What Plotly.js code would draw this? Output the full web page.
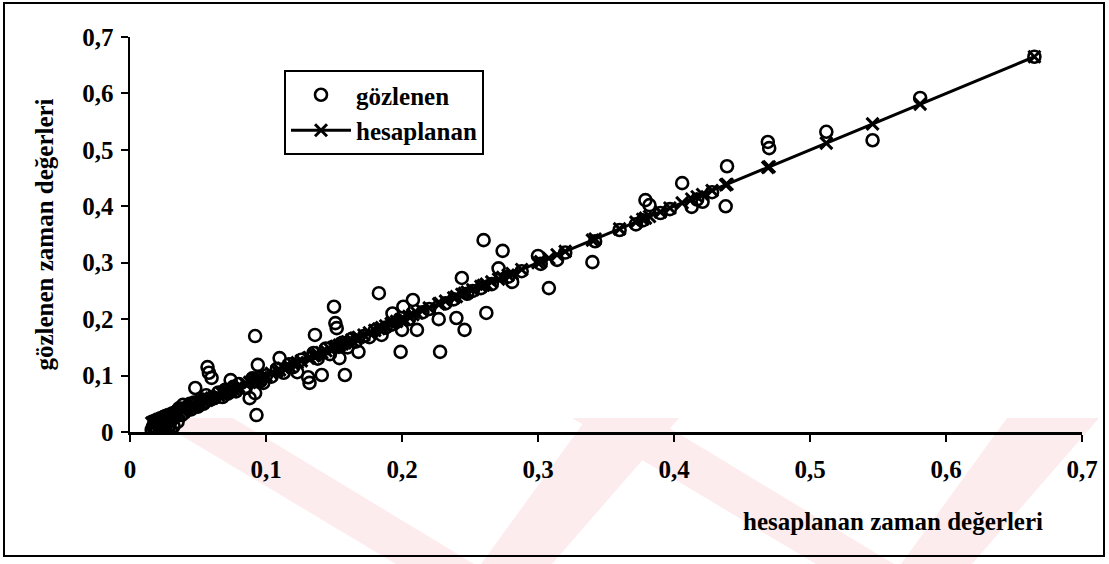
<!DOCTYPE html>
<html>
<head>
<meta charset="utf-8">
<script src="https://cdn.plot.ly/plotly-3.0.1.min.js"></script>
<style>html,body{margin:0;padding:0;background:#fff;}#chart{width:1109px;height:564px;}</style>
</head>
<body>
<div id="chart"></div>
<script>
// hesaplanan (computed) time values = x of each observation
const hesaplanan = [0.016,0.017,0.018,0.018,0.019,0.020,0.020,0.021,0.022,0.022,0.023,0.024,0.024,0.025,0.026,0.026,0.027,0.028,0.028,0.029,0.030,0.030,0.031,0.032,0.033,0.034,0.035,0.036,0.038,0.039,0.040,0.042,0.044,0.045,0.047,0.048,0.050,0.052,0.054,0.056,0.057,0.058,0.060,0.062,0.065,0.068,0.070,0.072,0.074,0.076,0.078,0.080,0.085,0.088,0.090,0.092,0.092,0.093,0.094,0.096,0.098,0.100,0.104,0.108,0.110,0.113,0.117,0.120,0.123,0.126,0.131,0.132,0.135,0.136,0.138,0.141,0.144,0.147,0.150,0.151,0.152,0.154,0.156,0.158,0.160,0.163,0.166,0.168,0.172,0.176,0.180,0.183,0.185,0.188,0.192,0.193,0.196,0.199,0.200,0.201,0.205,0.208,0.211,0.215,0.220,0.227,0.228,0.232,0.238,0.240,0.244,0.246,0.248,0.252,0.258,0.260,0.262,0.266,0.271,0.274,0.278,0.281,0.288,0.300,0.302,0.308,0.314,0.320,0.340,0.342,0.360,0.372,0.377,0.379,0.382,0.390,0.397,0.406,0.413,0.417,0.421,0.428,0.438,0.439,0.469,0.470,0.512,0.546,0.581,0.665];
// gözlenen (observed) time values
const gozlenen = [0.004,0.010,0.003,0.018,0.008,0.002,0.014,0.022,0.006,0.016,0.024,0.004,0.012,0.020,0.008,0.028,0.016,0.005,0.024,0.012,0.002,0.020,0.030,0.010,0.026,0.036,0.018,0.042,0.030,0.048,0.034,0.044,0.050,0.040,0.052,0.078,0.045,0.058,0.050,0.065,0.115,0.105,0.096,0.060,0.070,0.062,0.075,0.068,0.092,0.080,0.072,0.085,0.078,0.060,0.095,0.069,0.170,0.030,0.119,0.090,0.087,0.100,0.098,0.112,0.131,0.105,0.120,0.115,0.106,0.128,0.097,0.087,0.140,0.172,0.130,0.101,0.148,0.138,0.222,0.193,0.184,0.131,0.158,0.101,0.150,0.165,0.160,0.142,0.170,0.168,0.180,0.246,0.172,0.185,0.190,0.210,0.195,0.142,0.181,0.222,0.200,0.234,0.181,0.212,0.218,0.200,0.142,0.228,0.235,0.202,0.273,0.181,0.245,0.250,0.255,0.340,0.211,0.262,0.290,0.321,0.275,0.266,0.285,0.312,0.298,0.255,0.305,0.318,0.301,0.338,0.358,0.368,0.375,0.411,0.402,0.388,0.395,0.441,0.399,0.412,0.408,0.425,0.400,0.471,0.514,0.503,0.532,0.517,0.592,0.665];

const tickValues = [0,0.1,0.2,0.3,0.4,0.5,0.6,0.7];
const tickLabels = ['0','0,1','0,2','0,3','0,4','0,5','0,6','0,7'];
const seriesNames = ['gözlenen','hesaplanan'];
const xTitle = 'hesaplanan zaman değerleri';
const yTitle = 'gözlenen zaman değerleri';

const W = 1109, H = 564, L = 130, R = 27, T = 37, B = 132;
const pw = W - L - R, ph = H - T - B;
const px = v => (v - L) / pw;
const py = v => (H - B - v) / ph;
const font = {family: 'Liberation Serif, Times New Roman, serif', size: 25, color: '#000', weight: 'bold'};

// faint pink watermark stripes (background decoration)
const pink = '#fdecee';
function poly(pts){
  return {type:'path', xref:'paper', yref:'paper', layer:'below', fillcolor:pink, line:{width:0},
    path: 'M ' + pts.map(p => px(p[0]) + ',' + py(p[1])).join(' L ') + ' Z'};
}
const wm = [
  poly([[152,418],[233,418],[474,564],[396,564]]),
  poly([[587,418],[679,418],[552,564],[481,564]]),
  poly([[572,418],[653,418],[894,564],[816,564]]),
  poly([[1007,418],[1099,418],[972,564],[901,564]])
];
const border = {type:'rect', xref:'paper', yref:'paper', layer:'above',
  x0: px(4), x1: px(1104), y0: py(556), y1: py(3), line:{color:'#000', width:2}};

const traces = [
  {type:'scatter', mode:'markers', name: seriesNames[0], x: hesaplanan, y: gozlenen,
   marker:{symbol:'circle-open', size:12, color:'#000', line:{width:2.6, color:'#000'}}},
  {type:'scatter', mode:'lines+markers', name: seriesNames[1], x: hesaplanan, y: hesaplanan,
   line:{color:'#000', width:3},
   marker:{symbol:'x-thin-open', size:12, color:'#000', line:{width:3, color:'#000'}}}
];

const layout = {
  width: W, height: H,
  margin: {l: L, r: R, t: T, b: B, pad: 0},
  paper_bgcolor: '#fff', plot_bgcolor: 'rgba(0,0,0,0)',
  font: font,
  showlegend: true,
  legend: {x: px(284), y: py(70), xanchor:'left', yanchor:'top', bgcolor:'#fff',
    bordercolor:'#000', borderwidth: 2, font: font, tracegroupgap: 0, itemwidth: 60,
    entrywidth: 0},
  xaxis: {range:[0,0.7], tickvals: tickValues, ticktext: tickLabels, showgrid:false, zeroline:false,
    showline:true, linecolor:'#000', linewidth:2.5, ticks:'outside', ticklen:7, tickwidth:2, tickcolor:'#000',
    ticklabelstandoff: 6, tickfont: font, fixedrange:true},
  yaxis: {range:[0,0.7], tickvals: tickValues, ticktext: tickLabels, showgrid:false, zeroline:false,
    showline:true, linecolor:'#000', linewidth:2.5, ticks:'outside', ticklen:7, tickwidth:2, tickcolor:'#000',
    ticklabelstandoff: 2, tickfont: font, fixedrange:true,
    title:{text: yTitle, font: font, standoff: 22}},
  annotations: [
    {text: xTitle, xref:'paper', yref:'paper', x: px(1045), y: py(521), xanchor:'right', yanchor:'middle',
     showarrow:false, font: font}
  ],
  shapes: wm.concat([border])
};

Plotly.newPlot('chart', traces, layout, {displayModeBar:false, staticPlot:true});
</script>
</body>
</html>
